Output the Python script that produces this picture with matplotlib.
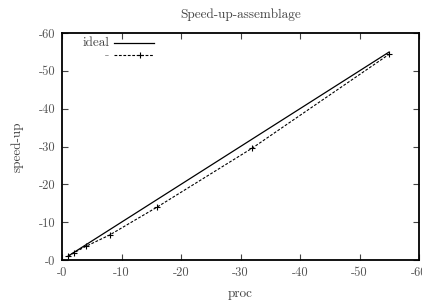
import matplotlib
matplotlib.use("Agg")
import matplotlib.pyplot as plt
from matplotlib.lines import Line2D

procs = [1, 2, 4, 8, 16, 32, 55]
speedup = [1.0, 1.9, 3.6, 6.6, 14.0, 29.6, 54.4]
ideal_x = [1, 55]
ideal_y = [1, 55]
xticks = [0, 10, 20, 30, 40, 50, 60]
yticks = [0, 10, 20, 30, 40, 50, 60]
xticklabels = ["-0", "-10", "-20", "-30", "-40", "-50", "-60"]
yticklabels = ["-0", "-10", "-20", "-30", "-40", "-50", "-60"]

plt.rcParams['font.family'] = ['cmr10', 'DejaVu Serif']
plt.rcParams['axes.unicode_minus'] = False

fig = plt.figure(figsize=(4.22, 3.02), dpi=100)
ax = fig.add_axes([62/422, 1-260/302, (419-62)/422, (260-33)/302])

ax.plot(ideal_x, ideal_y, color='black', lw=0.9, solid_capstyle='butt')
ax.plot(procs, speedup, color='black', lw=0.8, ls=(0, (2.5, 1.5)),
        marker='+', ms=4, mew=0.8)

ax.set_xlim(0, 60)
ax.set_ylim(0, 60)
ax.set_xticks(xticks)
ax.set_xticklabels(xticklabels)
ax.set_yticks(yticks)
ax.set_yticklabels(yticklabels)
ax.tick_params(direction='in', top=True, right=True, length=4, width=0.8,
               labelsize=9, colors='#444444', labelcolor='#555555', pad=5)
for s in ax.spines.values():
    s.set_linewidth(1.3)

ax.set_title("Speed-up-assemblage", fontsize=9.5, color='#444444', pad=11)
ax.set_xlabel("proc", fontsize=9.5, color='#444444', labelpad=6)
ax.set_ylabel("speed-up", fontsize=9.5, color='#444444', labelpad=11)

# legend (gnuplot style: right-aligned text, sample to the right)
tr = ax.transAxes
def ax_x(px):
    return (px - 62) / (419 - 62)
def ax_y(py):
    return (260 - py) / (260 - 33)
ax.text(ax_x(109), ax_y(43), "ideal", transform=tr, ha='right', va='center',
        fontsize=9.5, color='#444444')
ax.add_line(Line2D([ax_x(114), ax_x(154)], [ax_y(43), ax_y(43)], transform=tr,
                   color='black', lw=0.9))
ax.text(ax_x(109), ax_y(55), "-", transform=tr, ha='right', va='center',
        fontsize=9.5, color='#888888')
ax.add_line(Line2D([ax_x(114), ax_x(154)], [ax_y(55), ax_y(55)], transform=tr,
                   color='black', lw=0.8, ls=(0, (2.5, 1.5))))
ax.add_line(Line2D([ax_x(140)], [ax_y(55)], transform=tr, color='black',
                   marker='+', ms=4, mew=0.8, ls='none'))

fig.savefig("out.png", dpi=100)
